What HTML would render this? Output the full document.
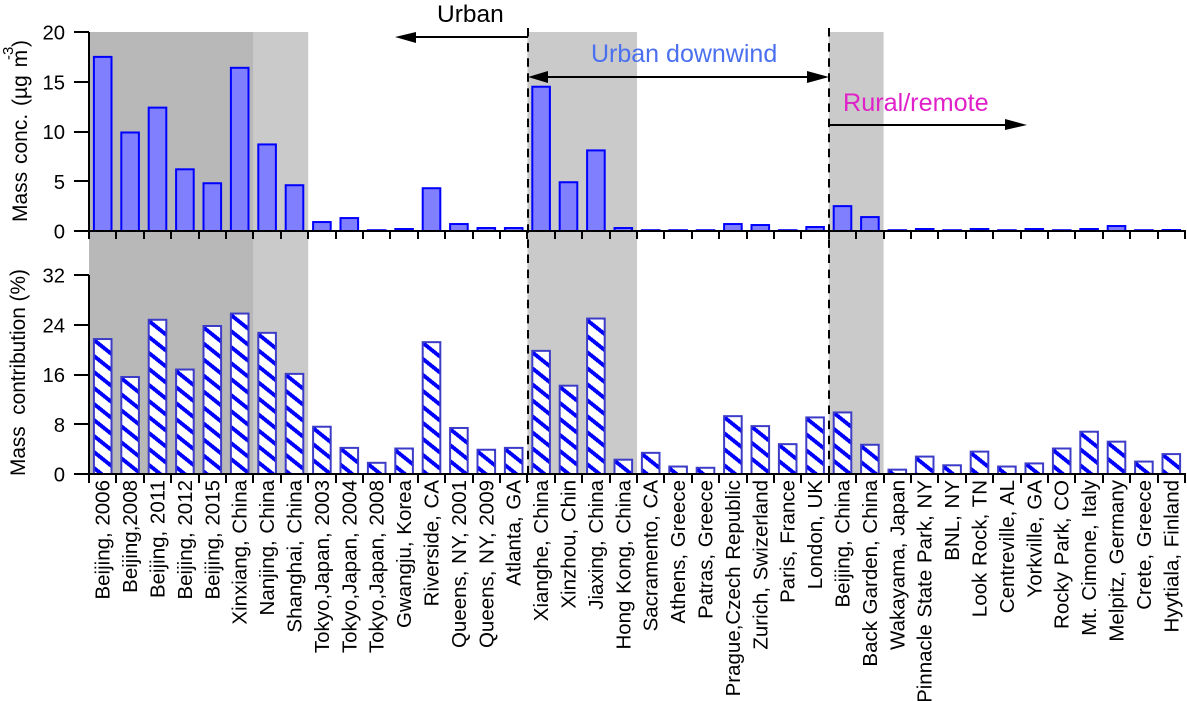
<!DOCTYPE html>
<html>
<head>
<meta charset="utf-8">
<title>Mass concentration and contribution by site</title>
<style>
html,body{margin:0;padding:0;background:#fff;width:1187px;height:701px;overflow:hidden}
svg{display:block;font-family:"Liberation Sans",Arial,sans-serif}
</style>
</head>
<body>
<svg id="chart" xmlns="http://www.w3.org/2000/svg" width="1187" height="701" viewBox="0 0 1187 701">
  <defs id="defs">
    <pattern id="hatch" patternUnits="userSpaceOnUse" width="20" height="16">
      <rect width="20" height="16" fill="#fff"/>
      <path d="M-20,-16L40,32M-20,-32L40,16M-20,0L40,48" stroke="#0000ff" stroke-width="3.9" fill="none" shape-rendering="crispEdges"/>
    </pattern>
  </defs>
  <g id="bands"></g>
  <g id="bars"></g>
  <g id="axes"></g>
  <g id="labels"></g>

  <text transform="translate(27,222) rotate(-90)" font-size="21" word-spacing="2" fill="#000">Mass conc. (µg m</text>
  <text transform="translate(13,60) rotate(-90)" font-size="15" fill="#000">-3</text>
  <text transform="translate(27,47) rotate(-90)" font-size="21" fill="#000">)</text>
  <text transform="translate(25,476) rotate(-90)" font-size="20.8" fill="#000" xml:space="preserve">Mass  contribution (%)</text>

  <g>
    <line x1="528" y1="28" x2="528" y2="482" stroke="#000" stroke-width="2" stroke-dasharray="8.5 6.6"/>
    <line x1="829" y1="28" x2="829" y2="482" stroke="#000" stroke-width="2" stroke-dasharray="8.5 6.6"/>

    <text x="437" y="22" font-size="24.5" fill="#000">Urban</text>
    <line x1="528" y1="37" x2="410" y2="37" stroke="#000" stroke-width="2"/>
    <polygon points="395,37 416,32 416,43" fill="#000"/>

    <text x="591" y="62" font-size="25" fill="#4a70f0">Urban downwind</text>
    <line x1="540" y1="77" x2="815" y2="77" stroke="#000" stroke-width="2"/>
    <polygon points="528,77 548,71 548,83" fill="#000"/>
    <polygon points="829,77 807,71 807,83" fill="#000"/>

    <text x="843" y="111" font-size="25.2" fill="#e020c8">Rural/remote</text>
    <line x1="829" y1="125" x2="1012" y2="125" stroke="#000" stroke-width="2"/>
    <polygon points="1027,125 1005,119 1005,130" fill="#000"/>
  </g>
</svg>
<script>
const categories = ["Beijing, 2006","Beijing,2008","Beijing, 2011","Beijing, 2012","Beijing, 2015","Xinxiang, China","Nanjing, China","Shanghai, China","Tokyo,Japan, 2003","Tokyo,Japan, 2004","Tokyo,Japan, 2008","Gwangju, Korea","Riverside, CA","Queens, NY, 2001","Queens, NY, 2009","Atlanta, GA","Xianghe, China","Xinzhou, Chin","Jiaxing, China","Hong Kong, China","Sacramento, CA","Athens, Greece","Patras, Greece","Prague,Czech Republic","Zurich, Swizerland","Paris, France","London, UK","Beijing, China","Back Garden, China","Wakayama, Japan","Pinnacle State Park, NY","BNL, NY","Look Rock, TN","Centreville, AL","Yorkville, GA","Rocky Park, CO","Mt. Cimone, Italy","Melpitz, Germany","Crete, Greece","Hyytiala, Finland"];
const massConc = [17.5,9.9,12.4,6.2,4.8,16.4,8.7,4.6,0.9,1.3,0.08,0.2,4.3,0.7,0.3,0.3,14.5,4.9,8.1,0.3,0.08,0.08,0.08,0.7,0.6,0.08,0.4,2.5,1.4,0.08,0.2,0.08,0.2,0.08,0.2,0.08,0.2,0.5,0.08,0.1];
const massContribution = [21.7,15.6,24.8,16.8,23.8,25.8,22.7,16.1,7.6,4.2,1.8,4.1,21.2,7.4,3.9,4.2,19.8,14.2,25,2.3,3.4,1.2,1,9.3,7.7,4.8,9.1,9.9,4.7,0.7,2.8,1.4,3.6,1.2,1.7,4.1,6.8,5.2,2,3.2];
const topTicks = [0,5,10,15,20];
const bottomTicks = [0,8,16,24,32];

const NS = 'http://www.w3.org/2000/svg';
const X0 = 89, STEP = 27.4;
const TOP_BASE = 231, TOP_MAX_Y = 32, TOP_MAX = 20;
const BOT_BASE = 474, BOT_MAX_Y = 275, BOT_MAX = 32;
const xEdge = i => X0 + STEP * i;
const xCenter = i => xEdge(i) + STEP / 2;
const yTop = v => TOP_BASE - (TOP_BASE - TOP_MAX_Y) * v / TOP_MAX;
const yBottom = v => BOT_BASE - (BOT_BASE - BOT_MAX_Y) * v / BOT_MAX;

function make(tag, parent, attrs) {
  const el = document.createElementNS(NS, tag);
  for (const k in attrs) el.setAttribute(k, attrs[k]);
  parent.appendChild(el);
  return el;
}
const gDefs = document.getElementById('defs');
const gBands = document.getElementById('bands');
const gBars = document.getElementById('bars');
const gAxes = document.getElementById('axes');
const gLabels = document.getElementById('labels');

/* shaded bands by category span */
[[0,6,'#b8b8b8'],[6,8,'#cacaca'],[16,20,'#cacaca'],[27,29,'#cacaca']].forEach(function (b) {
  const el = make('rect', gBands, {x: xEdge(b[0]), y: TOP_MAX_Y, width: xEdge(b[1]) - xEdge(b[0]), height: BOT_BASE - TOP_MAX_Y, fill: b[2]});
  
  
});

/* bars */
const BAR_W = 17.6;
massConc.forEach(function (v, i) {
  const y = yTop(v);
  const el = make('rect', gBars, {x: xCenter(i) - BAR_W / 2, y: y, width: BAR_W, height: TOP_BASE - y, fill: '#8080ff', stroke: '#0000ff', 'stroke-width': 2});
  
  
});
massContribution.forEach(function (v, i) {
  const y = yBottom(v);
  const bx = xCenter(i) - BAR_W / 2;
  /* the hatch is anchored to each bar's top-left corner */
  make('pattern', gDefs, {id: 'hatch-' + i, href: '#hatch', patternTransform: 'translate(' + Math.round(bx) + ',' + Math.round(y + 1) + ')'});
  const el = make('rect', gBars, {x: bx, y: y, width: BAR_W, height: BOT_BASE - y, fill: 'url(#hatch-' + i + ')', stroke: '#3c3cc8', 'stroke-width': 2});
  
  
});

/* axes */
function axisLine(x1, y1, x2, y2) {
  const el = make('line', gAxes, {x1: x1, y1: y1, x2: x2, y2: y2, stroke: '#000', 'stroke-width': 2, 'shape-rendering': 'crispEdges'});
  
  
}
function tick(x1, y1, x2, y2) {
  const el = make('line', gAxes, {x1: x1, y1: y1, x2: x2, y2: y2, stroke: '#000', 'stroke-width': 2, 'shape-rendering': 'crispEdges'});
  
  
}
function tickLabel(text, y) {
  const el = make('text', gAxes, {x: 65, y: y + 7.5, 'text-anchor': 'end', 'font-size': 20.3, fill: '#000'});
  el.textContent = text;
  
  
}
axisLine(X0, TOP_MAX_Y, X0, TOP_BASE);
axisLine(X0, BOT_MAX_Y, X0, BOT_BASE);
axisLine(X0, TOP_BASE, 1186, TOP_BASE);
axisLine(X0, BOT_BASE, 1186, BOT_BASE);
topTicks.forEach(function (v) {
  tick(74, Math.round(yTop(v)), X0, Math.round(yTop(v)));
  tickLabel(String(v), yTop(v));
});
bottomTicks.forEach(function (v) {
  tick(74, Math.round(yBottom(v)), X0, Math.round(yBottom(v)));
  tickLabel(String(v), yBottom(v));
});
for (let i = 0; i <= categories.length; i++) {
  tick(Math.round(xEdge(i)), TOP_BASE, Math.round(xEdge(i)), 239);
  tick(Math.round(xEdge(i)), BOT_BASE, Math.round(xEdge(i)), 483);
}

/* category labels */
categories.forEach(function (name, i) {
  const el = make('text', gLabels, {transform: 'translate(' + (xCenter(i) + 7) + ',480) rotate(-90)', 'text-anchor': 'end', 'font-size': 20.5, 'word-spacing': 1, fill: '#000'});
  el.textContent = name;
  
  
});
</script>
</body>
</html>
